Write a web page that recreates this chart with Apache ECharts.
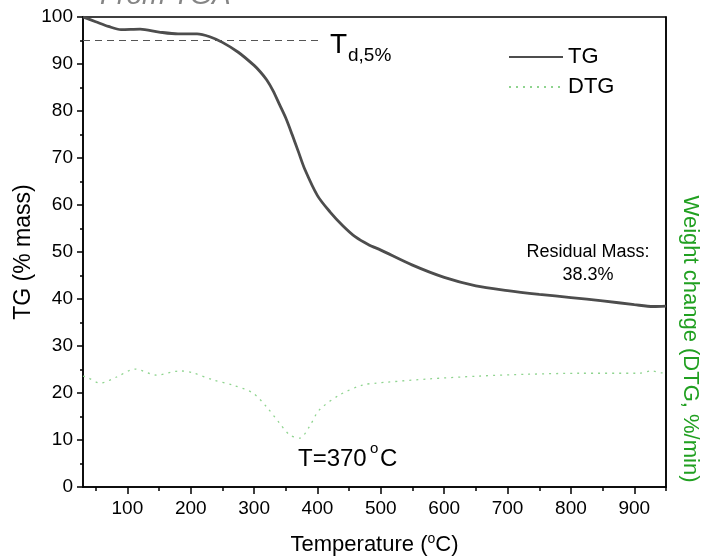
<!DOCTYPE html>
<html>
<head>
<meta charset="utf-8">
<script src="https://cdn.jsdelivr.net/npm/echarts@6/dist/echarts.min.js"></script>
<style>html,body{margin:0;padding:0;background:#fff}#c{width:702px;height:558px}</style>
</head>
<body>
<div id="c"></div>
<script>
// ---- data ----
const tgTemp = [30,50,70,90,120,150,180,210,230,250,275,300,310,320,330,340,350,360,370,380,400,420,440,460,480,500,550,600,650,700,750,800,850,900,930,950];
const tgMass = [100,99.0,98.0,97.3,97.4,96.8,96.4,96.4,95.8,94.6,92.5,89.7,88.3,86.6,84.3,81.4,78.5,75.0,71.3,67.6,62.0,58.5,55.6,53.2,51.6,50.4,47.2,44.6,42.8,41.8,41.0,40.3,39.6,38.8,38.4,38.5];
const dtgTemp = [30,36,57,83,112,146,183,203,235,266,298,320,340,356,372,387,403,435,471,493,509,576,655,734,813,907,928,942,950];
const dtgVal  = [23.6,23.4,22.1,23.4,25.1,23.8,24.7,24.3,22.8,21.7,20.0,17.0,13.6,11.1,10.4,12.8,16.4,19.6,21.7,22.1,22.3,23.0,23.6,24.0,24.2,24.2,24.7,24.3,24.3];
const xMajorTicks = [100,200,300,400,500,600,700,800,900];
const xMinorTicks = [50,150,250,350,450,550,650,750,850,950];
const tdLine = [[30,95],[403,95]];

const FONT = 'Liberation Sans, Arial, sans-serif';
const chart = echarts.init(document.getElementById('c'), null, {renderer:'canvas'});

const zip = (a,b) => a.map((v,i)=>[v,b[i]]);

chart.setOption({
  backgroundColor:'#fff',
  animation:false,
  textStyle:{fontFamily:FONT},
  grid:{left:83,right:36,top:17,bottom:71,outerBoundsMode:'none',containLabel:false,show:true,borderColor:'#000',borderWidth:1.5,backgroundColor:'transparent'},
  legend:{
    orient:'vertical', left:503, top:41, itemWidth:54, itemHeight:12, itemGap:8,
    itemStyle:{opacity:0},
    textStyle:{fontSize:22,color:'#000',fontFamily:FONT,lineHeight:22},
    data:['TG','DTG']
  },
  xAxis:[{
    type:'value', min:30, max:950,
    name:'Temperature ({sup|o}C)', nameLocation:'middle', nameGap:45,
    nameTextStyle:{fontSize:22,color:'#000',fontFamily:FONT,lineHeight:26,
      rich:{sup:{fontSize:14,verticalAlign:'top',lineHeight:14,color:'#000',fontFamily:FONT}}},
    axisLine:{show:true,lineStyle:{color:'#000',width:1.5}},
    axisTick:{show:true,inside:false,length:7,lineStyle:{color:'#000',width:1.5},customValues:xMajorTicks},
    axisLabel:{fontSize:19,color:'#000',margin:12,fontFamily:FONT,customValues:xMajorTicks},
    splitLine:{show:false}
  },{
    type:'value', min:30, max:950, position:'bottom',
    axisLine:{show:false},
    axisTick:{show:true,inside:false,length:4,lineStyle:{color:'#000',width:1.5},customValues:xMinorTicks},
    axisLabel:{show:false,customValues:xMinorTicks},
    splitLine:{show:false}
  }],
  yAxis:[{
    type:'value', min:0, max:100, interval:10,
    name:'TG (% mass)', nameLocation:'middle', nameGap:48, nameMoveOverlap:false,
    nameTextStyle:{fontSize:23,color:'#000',fontFamily:FONT},
    axisLine:{show:true,lineStyle:{color:'#000',width:1.5}},
    axisTick:{show:true,inside:false,length:6,lineStyle:{color:'#000',width:1.5}},
    minorTick:{show:true,splitNumber:2,length:3,lineStyle:{color:'#000',width:1.5}},
    axisLabel:{fontSize:19,color:'#000',margin:10,fontFamily:FONT},
    splitLine:{show:false}
  },{
    type:'value', min:0, max:100, position:'right',
    axisLine:{show:true,lineStyle:{color:'#000',width:1.5}},
    axisTick:{show:false}, axisLabel:{show:false}, splitLine:{show:false}
  }],
  series:[{
    name:'TG', type:'line', xAxisIndex:0, yAxisIndex:0,
    data:zip(tgTemp,tgMass), smooth:0.3, showSymbol:false, symbol:'none',
    lineStyle:{color:'#4d4d4d',width:2.8}, itemStyle:{color:'#4d4d4d'},
    markLine:{
      silent:true, symbol:['none','none'], label:{show:false},
      lineStyle:{color:'#555',type:[7,5],width:1.2},
      data:[[{coord:tdLine[0]},{coord:tdLine[1]}]]
    }
  },{
    name:'DTG', type:'line', xAxisIndex:0, yAxisIndex:1,
    data:zip(dtgTemp,dtgVal), smooth:0.3, showSymbol:false, symbol:'none',
    lineStyle:{color:'#8fd48f',width:1.3,type:[2,5]}, itemStyle:{color:'#8fd48f'}
  }],
  graphic:[
    {type:'text', x:100, y:-4, style:{text:'From TGA', font:'italic 28px Liberation Sans, Arial, sans-serif', fill:'#858585', verticalAlign:'middle', align:'left'}},
    {type:'text', x:330, y:45, style:{text:'T', font:'28px Liberation Sans, Arial, sans-serif', fill:'#000', verticalAlign:'middle', align:'left'}},
    {type:'text', x:348, y:56, style:{text:'d,5%', font:'19px Liberation Sans, Arial, sans-serif', fill:'#000', verticalAlign:'middle', align:'left'}},
    {type:'text', x:588, y:252, style:{text:'Residual Mass:', font:'18px Liberation Sans, Arial, sans-serif', fill:'#000', verticalAlign:'middle', align:'center'}},
    {type:'text', x:588, y:275, style:{text:'38.3%', font:'18px Liberation Sans, Arial, sans-serif', fill:'#000', verticalAlign:'middle', align:'center'}},
    {type:'text', x:298, y:459, style:{text:'T=370 ', font:'24px Liberation Sans, Arial, sans-serif', fill:'#000', verticalAlign:'middle', align:'left'}},
    {type:'text', x:370, y:449, style:{text:'o', font:'15px Liberation Sans, Arial, sans-serif', fill:'#000', verticalAlign:'middle', align:'left'}},
    {type:'text', x:380, y:459, style:{text:'C', font:'24px Liberation Sans, Arial, sans-serif', fill:'#000', verticalAlign:'middle', align:'left'}},
    {type:'text', x:690, y:339, rotation:-Math.PI/2, style:{text:'Weight change (DTG, %/min)', font:'22px Liberation Sans, Arial, sans-serif', fill:'#21a021', verticalAlign:'middle', align:'center'}}
  ]
});
</script>
</body>
</html>
